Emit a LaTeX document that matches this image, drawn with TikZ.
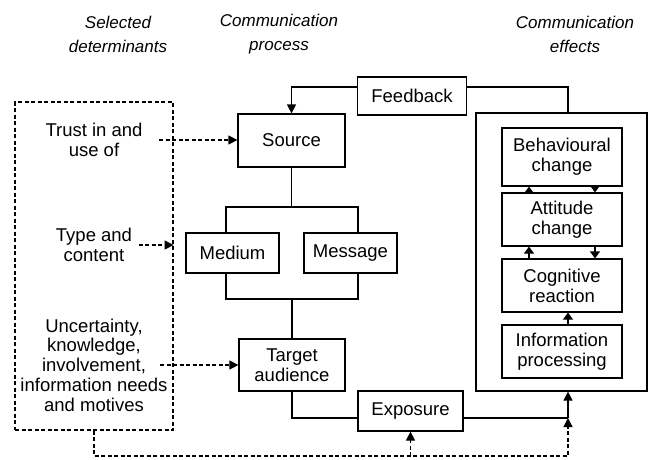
\documentclass[tikz,border=0pt]{standalone}
\usepackage{fontspec}
\setmainfont{Liberation Sans}
\usetikzlibrary{arrows.meta}

\tikzset{
  box/.style={draw, align=center, inner sep=0pt},
  lbl/.style={align=center, inner sep=6pt},
  head/.style={align=center, font=\itshape\fontsize{17}{24}\selectfont},
  arr/.style={-{Triangle[length=9pt,width=9pt]}},
  tick/.style={-{Triangle[length=7pt,width=10pt]}},
  dsh/.style={dash pattern=on 4pt off 2.5pt},
}

\begin{document}
\begin{tikzpicture}[x=1pt,y=-1pt,line width=1.2pt,font=\fontsize{18.5}{19.8}\selectfont]
\useasboundingbox (0,0) rectangle (655,459);
% headings
\node[head] (hdet) at (118,34) {Selected\\determinants};
\node[head] (hproc) at (279,34) {Communication\\process};
\node[head] (heff) at (575,34) {Communication\\effects};
% determinants
\node[draw, dsh, minimum width=158pt, minimum height=328pt] (det) at (94,266) {};
\node[lbl] (trust) at (94,140) {Trust in and\\use of};
\node[lbl] (type) at (94,245) {Type and\\content};
\node[lbl] (unc) at (94,365) {Uncertainty,\\knowledge,\\involvement,\\information needs\\and motives};
\coordinate (uarr) at (160,365);
% process
\node[box, minimum width=107pt, minimum height=53pt] (source) at (291.5,140.5) {Source};
\node[box, minimum width=93pt, minimum height=40pt] (medium) at (232.5,253) {Medium};
\node[box, minimum width=93pt, minimum height=40pt] (message) at (350.5,253) {Message};
\node[box, minimum width=106pt, minimum height=52pt] (target) at (292,365) {Target\\audience};
\node[box, minimum width=109pt, minimum height=38pt] (feedback) at (412,96) {Feedback};
\node[box, minimum width=105pt, minimum height=40pt] (exposure) at (410.5,411) {Exposure};
\coordinate (btl) at (226,207);
\coordinate (btr) at (358,207);
\coordinate (bbl) at (226,299);
\coordinate (bbr) at (358,299);
% effects
\node[box, minimum width=171pt, minimum height=278pt] (effects) at (561.5,252) {};
\node[box, minimum width=120pt, minimum height=58pt] (behav) at (562,157) {Behavioural\\change};
\node[box, minimum width=120pt, minimum height=53pt] (attitude) at (562,219.5) {Attitude\\change};
\node[box, minimum width=120pt, minimum height=53pt] (cognitive) at (562,285.5) {Cognitive\\reaction};
\node[box, minimum width=120pt, minimum height=53pt] (info) at (562,351.5) {Information\\processing};
\coordinate (ecorner) at (568,418);
\coordinate (dcorner) at (568,456);

% solid connections
\draw (source) -- (source |- btl);
\draw (btl |- medium.north) -- (btl) -- (btr) -- (btr |- message.north);
\draw (bbl |- medium.south) -- (bbl) -- (bbr) -- (bbr |- message.south);
\draw (target) -- (target |- bbl);
\draw (target.south) |- ([yshift=-7pt]exposure.west);
\draw ([yshift=-7pt]exposure.east) -- (ecorner);
\draw[arr] (ecorner) -- (ecorner |- effects.south);
\draw[arr] ([yshift=9pt]feedback.west) -| (source.north);
\draw ([yshift=9pt]feedback.east) -| (ecorner |- effects.north);
\draw[tick] ([xshift=-33pt]attitude.north) -- ([xshift=-33pt]behav.south);
\draw[tick] ([xshift=33pt]behav.south) -- ([xshift=33pt]attitude.north);
\draw[tick] ([xshift=-33pt]cognitive.north) -- ([xshift=-33pt]attitude.south);
\draw[tick] ([xshift=33pt]attitude.south) -- ([xshift=33pt]cognitive.north);
\draw[tick] ([xshift=6pt]info.north) -- ([xshift=6pt]cognitive.south);

% dashed connections
\draw[dsh, arr, shorten <=10pt] (trust.east) -- (trust.east -| source.west);
\draw[dsh, arr] (type.east) -- (type.east -| det.east);
\draw[dsh, arr] (uarr) -- (uarr -| target.west);
\draw[dsh, arr] (det.south) |- (dcorner) -- (ecorner);
\draw[dsh, arr] (exposure.south |- dcorner) -- (exposure.south);
\end{tikzpicture}
\end{document}
